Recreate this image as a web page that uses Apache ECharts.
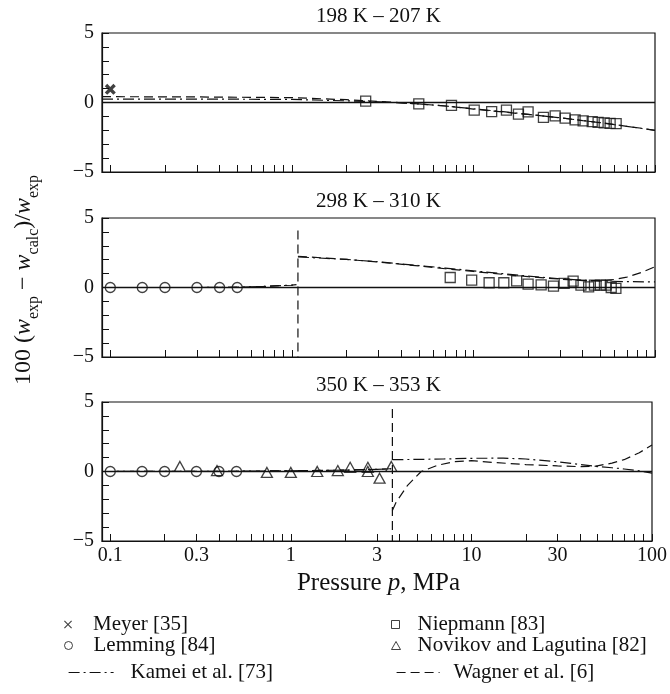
<!DOCTYPE html>
<html>
<head>
<meta charset="utf-8">
<script src="https://cdn.jsdelivr.net/npm/echarts@6/dist/echarts.min.js"></script>
<style>
html,body{margin:0;padding:0;background:#fff;}
#chart{width:670px;height:694px;}
</style>
</head>
<body>
<div id="chart"></div>
<script>
// ---------------- data ----------------
const panelTitles = ['198 K \u2013 207 K', '298 K \u2013 310 K', '350 K \u2013 353 K'];
const xTickValues = [0.1,0.2,0.3,0.4,0.5,0.6,0.7,0.8,0.9,1,2,3,4,5,6,7,8,9,10,20,30,40,50,60,70,80,90,100];
const xLabelValues = [0.1,0.3,1,3,10,30,100];
const yTickValues = [-5,-4,-3,-2,-1,0,1,2,3,4,5];
const yLabelValues = [-5,0,5];

// Panel 1 (198 K - 207 K)
const p1MeyerP = [0.1];
const p1MeyerD = [0.95];
const p1NiepP = [2.55,5.0,7.57,10.1,12.6,15.2,17.7,20.0,24.3,28.2,32.0,36.3,40.2,45.1,48.6,52.5,56.6,61.1];
const p1NiepD = [0.1,-0.1,-0.2,-0.55,-0.66,-0.55,-0.83,-0.68,-1.07,-0.96,-1.12,-1.25,-1.32,-1.38,-1.43,-1.47,-1.5,-1.52];
const p1KameiP = [0.09,0.3,1,2,3,5,7,10,15,20,30,40,50,60,70,85,100];
const p1KameiD = [0.25,0.25,0.22,0.12,0.05,-0.1,-0.25,-0.45,-0.68,-0.85,-1.1,-1.3,-1.45,-1.6,-1.72,-1.87,-2.0];
const p1WagnerP = [0.09,0.3,1,2,3,5,7,10,15,20,30,40,50,60,70,85,100];
const p1WagnerD = [0.42,0.4,0.35,0.2,0.08,-0.1,-0.25,-0.47,-0.7,-0.86,-1.1,-1.3,-1.45,-1.58,-1.72,-1.86,-2.0];

// Panel 2 (298 K - 310 K)
const p2LemmingP = [0.1,0.15,0.2,0.3,0.4,0.5];
const p2LemmingD = [0,0,0,0,0,0];
const p2NiepP = [7.45,9.78,12.2,14.7,17.3,20.0,23.6,27.6,31.6,35.4,39.1,43.1,46.4,50.0,53.8,57.4,60.9];
const p2NiepD = [0.72,0.53,0.34,0.34,0.48,0.24,0.19,0.1,0.29,0.46,0.17,0.05,0.17,0.17,0.17,0.0,-0.07];
const p2GasP = [0.09,0.3,0.5,0.7,1.0,1.06];
const p2KameiGasD = [0,0,0.02,0.08,0.17,0.2];
const p2WagnerGasD = [0,0,0.02,0.08,0.17,0.2];
const p2KameiLiqP = [1.08,2,3,5,7,10,15,20,30,40,50,70,100];
const p2KameiLiqD = [2.2,2.02,1.85,1.58,1.4,1.2,0.98,0.82,0.63,0.52,0.47,0.42,0.4];
const p2WagnerJumpP = [1.08,1.08];
const p2WagnerJumpD = [4.1,-5];
const p2WagnerLiqP = [1.08,2,3,5,7,10,15,20,30,40,50,60,70,85,100];
const p2WagnerLiqD = [2.25,2.02,1.83,1.55,1.35,1.15,0.93,0.78,0.6,0.5,0.48,0.58,0.75,1.1,1.5];

// Panel 3 (350 K - 353 K)
const p3LemmingP = [0.1,0.15,0.2,0.3,0.4,0.5];
const p3LemmingD = [0,0,0,0,0,0];
const p3NovikovP = [0.243,0.39,0.737,1.0,1.40,1.82,2.13,2.67,2.67,3.1,3.6];
const p3NovikovD = [0.36,0.07,-0.07,-0.07,0,0.07,0.3,0.3,0,-0.48,0.36];
const p3GasP = [0.09,0.5,1,2,3,3.6];
const p3KameiGasD = [0,0.02,0.05,0.1,0.15,0.2];
const p3WagnerGasD = [0,0.02,0.05,0.1,0.15,0.2];
const p3KameiLiqP = [3.65,5,7,10,15,20,30,40,50,60,70,85,100];
const p3KameiLiqD = [0.85,0.87,0.9,0.95,0.96,0.9,0.7,0.5,0.35,0.27,0.18,0.05,-0.12];
const p3WagnerJumpP = [3.65,3.65];
const p3WagnerJumpD = [4.5,-5];
const p3WagnerLiqP = [3.65,3.83,4.43,5.27,6.5,8,10,13,20,30,40,48,60,70,85,100];
const p3WagnerLiqD = [-2.8,-2.2,-1.0,0.0,0.45,0.7,0.78,0.66,0.5,0.4,0.35,0.37,0.6,0.85,1.35,1.9];

// ---------------- styling ----------------
const FONT = "'Liberation Serif','Times New Roman',serif";
const BLACK = '#111';
const NAMES = {
  meyer: 'Meyer [35]', lemming: 'Lemming [84]', kamei: 'Kamei et al. [73]',
  niep: 'Niepmann [83]', novikov: 'Novikov and Lagutina [82]', wagner: 'Wagner et al. [6]'
};
const X_BOLD = 'path://M2.2,0 L5,2.8 L7.8,0 L10,2.2 L7.2,5 L10,7.8 L7.8,10 L5,7.2 L2.2,10 L0,7.8 L2.8,5 L0,2.2 Z';
const X_THIN = 'path://M1,0 L5,4 L9,0 L10,1 L6,5 L10,9 L9,10 L5,6 L1,10 L0,9 L4,5 L0,1 Z';
const DASHDOT = [11,4,2,4];
const DASH = [9,5];

const zip = (p, d) => p.map((x, i) => [x, d[i]]);

const gridTops = [33, 218, 402];
const grids = gridTops.map(t => ({
  left: 102, right: 15, top: t, height: 139,
  show: true, borderColor: BLACK, borderWidth: 1.2, backgroundColor: 'transparent'
}));

const labelFmt = v => String(parseFloat(Number(v).toPrecision(6)));

const xAxes = [0,1,2].map(i => ({
  type: 'log', logBase: 10, gridIndex: i, min: 0.09, max: 100,
  axisLine: { show: true, onZero: false, lineStyle: { color: BLACK, width: 1.2 } },
  axisTick: { show: true, inside: true, length: 7, customValues: xTickValues, lineStyle: { color: BLACK, width: 1 } },
  axisLabel: { show: i === 2, customValues: xLabelValues, formatter: labelFmt, fontFamily: FONT, fontSize: 20, color: BLACK, margin: 5 },
  splitLine: { show: false }, minorTick: { show: false }, minorSplitLine: { show: false }
}));

const yAxes = [0,1,2].map(i => ({
  type: 'value', gridIndex: i, min: -5, max: 5, interval: 5,
  axisLine: { show: true, onZero: false, lineStyle: { color: BLACK, width: 1.2 } },
  axisTick: { show: true, inside: true, length: 7, customValues: yTickValues, lineStyle: { color: BLACK, width: 1 } },
  axisLabel: { show: true, customValues: yLabelValues, fontFamily: FONT, fontSize: 20, color: BLACK, margin: 8,
    formatter: v => (v < 0 ? '\u2212' + Math.abs(v) : String(v)) },
  splitLine: { show: false }
}));

function lineSeries(name, gi, p, d, dash, withZero) {
  const s = {
    name, type: 'line', xAxisIndex: gi, yAxisIndex: gi,
    data: zip(p, d), symbol: 'none', showSymbol: false, smooth: false, silent: true,
    itemStyle: { color: BLACK },
    lineStyle: { color: BLACK, width: 1.2, type: dash },
    emphasis: { disabled: true }, z: 3
  };
  if (withZero) {
    s.markLine = {
      silent: true, symbol: ['none','none'], label: { show: false },
      lineStyle: { color: BLACK, type: 'solid', width: 1.3 },
      data: [{ yAxis: 0 }], animation: false
    };
  }
  return s;
}
function scatterSeries(name, gi, p, d, symbol, size, filled) {
  return {
    name, type: 'scatter', xAxisIndex: gi, yAxisIndex: gi,
    data: zip(p, d), symbol, symbolSize: size, silent: true,
    itemStyle: filled ? { color: BLACK, borderWidth: 0 } : { color: 'rgba(0,0,0,0)', borderColor: BLACK, borderWidth: 1.3 },
    emphasis: { disabled: true }, z: 4
  };
}

const series = [
  // panel 1
  lineSeries(NAMES.kamei, 0, p1KameiP, p1KameiD, DASHDOT, true),
  lineSeries(NAMES.wagner, 0, p1WagnerP, p1WagnerD, DASH, false),
  scatterSeries(NAMES.meyer, 0, p1MeyerP, p1MeyerD, X_BOLD, 11, true),
  scatterSeries(NAMES.niep, 0, p1NiepP, p1NiepD, 'rect', 10, false),
  // panel 2
  lineSeries(NAMES.kamei, 1, p2GasP, p2KameiGasD, DASHDOT, true),
  lineSeries(NAMES.kamei, 1, p2KameiLiqP, p2KameiLiqD, DASHDOT, false),
  lineSeries(NAMES.wagner, 1, p2GasP, p2WagnerGasD, DASH, false),
  lineSeries(NAMES.wagner, 1, p2WagnerJumpP, p2WagnerJumpD, DASH, false),
  lineSeries(NAMES.wagner, 1, p2WagnerLiqP, p2WagnerLiqD, DASH, false),
  scatterSeries(NAMES.lemming, 1, p2LemmingP, p2LemmingD, 'circle', 10, false),
  scatterSeries(NAMES.niep, 1, p2NiepP, p2NiepD, 'rect', 10, false),
  // panel 3
  lineSeries(NAMES.kamei, 2, p3GasP, p3KameiGasD, DASHDOT, true),
  lineSeries(NAMES.kamei, 2, p3KameiLiqP, p3KameiLiqD, DASHDOT, false),
  lineSeries(NAMES.wagner, 2, p3GasP, p3WagnerGasD, DASH, false),
  lineSeries(NAMES.wagner, 2, p3WagnerJumpP, p3WagnerJumpD, DASH, false),
  lineSeries(NAMES.wagner, 2, p3WagnerLiqP, p3WagnerLiqD, DASH, false),
  scatterSeries(NAMES.lemming, 2, p3LemmingP, p3LemmingD, 'circle', 10, false),
  scatterSeries(NAMES.novikov, 2, p3NovikovP, p3NovikovD, 'triangle', [11, 10], false)
];

const legendText = { fontFamily: FONT, fontSize: 21, color: BLACK };
function legendBox(name, left, top, itemWidth, itemHeight, icon, itemStyle, lineStyle, padLeft) {
  const item = { name };
  if (icon) item.icon = icon;
  const lg = {
    left, top, orient: 'horizontal', selectedMode: false,
    itemWidth, itemHeight, itemGap: 0,
    textStyle: Object.assign({ padding: [0, 0, 0, padLeft || 0] }, legendText),
    itemStyle, data: [item]
  };
  if (lineStyle) lg.lineStyle = lineStyle;
  return lg;
}
const openStyle = { color: 'rgba(0,0,0,0)', borderColor: BLACK, borderWidth: 1 };
const hiddenSym = { color: 'rgba(0,0,0,0)', borderColor: 'rgba(0,0,0,0)', borderWidth: 0, opacity: 0 };
const legends = [
  legendBox(NAMES.meyer, 59, 609, 8, 8, X_THIN, { color: BLACK, borderWidth: 0 }, null, 16),
  legendBox(NAMES.lemming, 59, 630, 8, 8, 'circle', openStyle, null, 16),
  legendBox(NAMES.kamei, 63, 657, 45, 10, null, hiddenSym, { color: BLACK, width: 1.2, type: DASHDOT }, 12),
  legendBox(NAMES.niep, 386, 609, 8, 8, 'rect', openStyle, null, 13),
  legendBox(NAMES.novikov, 386, 630, 9, 8, 'triangle', openStyle, null, 12),
  legendBox(NAMES.wagner, 391, 657, 43, 10, null, hiddenSym, { color: BLACK, width: 1.2, type: DASH }, 9)
];

const graphics = [
  // panel titles
  ...panelTitles.map((t, i) => ({
    type: 'text', x: 378.5, y: gridTops[i] - 17,
    style: { text: t, fontFamily: FONT, fontSize: 21, fill: BLACK, align: 'center', verticalAlign: 'middle' }
  })),
  // x axis name
  {
    type: 'text', x: 378.5, y: 583,
    style: {
      text: '{n|Pressure }{i|p}{n|, MPa}', align: 'center', verticalAlign: 'middle',
      rich: {
        n: { fontFamily: FONT, fontSize: 25, fill: BLACK },
        i: { fontFamily: FONT, fontSize: 25, fontStyle: 'italic', fill: BLACK }
      }
    }
  },
  // y axis name
  {
    type: 'text', x: 25, y: 280, rotation: Math.PI / 2,
    style: {
      text: '{n|100 (}{i|w}{s|exp}{n| \u2212 }{i|w}{s|calc}{n|)/}{i|w}{s|exp}',
      align: 'center', verticalAlign: 'middle',
      rich: {
        n: { fontFamily: FONT, fontSize: 24, fill: BLACK, lineHeight: 26, verticalAlign: 'top' },
        i: { fontFamily: FONT, fontSize: 24, fontStyle: 'italic', fill: BLACK, lineHeight: 26, verticalAlign: 'top' },
        s: { fontFamily: FONT, fontSize: 16, fill: BLACK, lineHeight: 16, padding: [14, 0, 0, 0], verticalAlign: 'top' }
      }
    }
  }
];

const chart = echarts.init(document.getElementById('chart'), null, { renderer: 'canvas' });
chart.setOption({
  animation: false,
  backgroundColor: '#fff',
  grid: grids,
  xAxis: xAxes,
  yAxis: yAxes,
  legend: legends,
  graphic: graphics,
  series
});
</script>
</body>
</html>
